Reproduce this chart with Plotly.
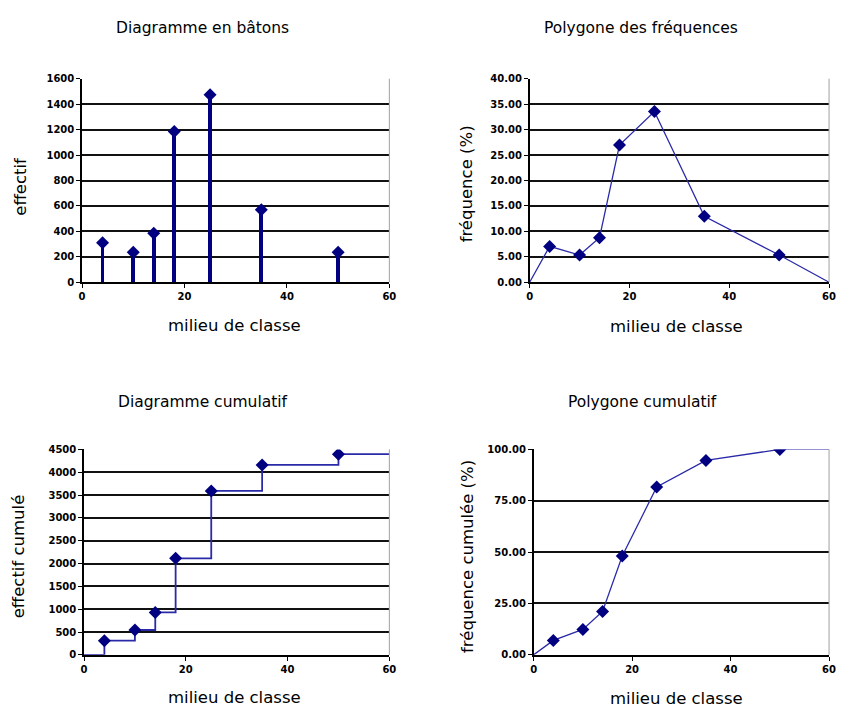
import plotly.graph_objects as go

# Class midpoints and the statistics plotted for each class
milieux = [4, 10, 14, 18, 25, 35, 50]
effectifs = [310, 235, 385, 1185, 1475, 570, 235]
frequences = [7.05, 5.35, 8.76, 26.96, 33.56, 12.97, 5.35]
effectifs_cumules = [310, 545, 930, 2115, 3590, 4160, 4395]
frequences_cumulees = [7.05, 12.40, 21.16, 48.12, 81.68, 94.65, 100.00]

# Polygon end points on the class boundaries
x_debut, x_fin = 0, 60

titres = ["Diagramme en bâtons", "Polygone des fréquences",
          "Diagramme cumulatif", "Polygone cumulatif"]
titres_y = ["effectif", "fréquence (%)", "effectif cumulé", "fréquence cumulée (%)"]
titre_x = "milieu de classe"

NAVY = "#000080"
LINE = "#2a2aa8"
W, H = 841, 711


def px(v):
    return v / W


def py(v):
    return 1 - v / H


fig = go.Figure()

# 1) stems
fig.add_trace(go.Bar(x=milieux, y=effectifs, width=0.75, marker=dict(color=NAVY, line=dict(width=0)),
                     xaxis="x", yaxis="y", hoverinfo="x+y"))
fig.add_trace(go.Scatter(x=milieux, y=effectifs, mode="markers",
                         marker=dict(symbol="diamond", size=10, color=NAVY),
                         xaxis="x", yaxis="y"))

# 2) frequency polygon
fig.add_trace(go.Scatter(x=[x_debut] + milieux + [x_fin], y=[0] + frequences + [0],
                         mode="lines", line=dict(color=LINE, width=1.3),
                         xaxis="x2", yaxis="y2"))
fig.add_trace(go.Scatter(x=milieux, y=frequences, mode="markers",
                         marker=dict(symbol="diamond", size=10, color=NAVY),
                         xaxis="x2", yaxis="y2"))

# 3) cumulative step diagram
fig.add_trace(go.Scatter(x=[x_debut] + milieux + [x_fin],
                         y=[0] + effectifs_cumules + [effectifs_cumules[-1]],
                         mode="lines", line=dict(color=LINE, width=1.8, shape="hv"),
                         xaxis="x3", yaxis="y3"))
fig.add_trace(go.Scatter(x=milieux, y=effectifs_cumules, mode="markers",
                         marker=dict(symbol="diamond", size=10, color=NAVY),
                         xaxis="x3", yaxis="y3"))

# 4) cumulative polygon
fig.add_trace(go.Scatter(x=[x_debut] + milieux + [x_fin],
                         y=[0] + frequences_cumulees + [frequences_cumulees[-1]],
                         mode="lines", line=dict(color=LINE, width=1.3),
                         xaxis="x4", yaxis="y4"))
fig.add_trace(go.Scatter(x=milieux, y=frequences_cumulees, mode="markers",
                         marker=dict(symbol="diamond", size=10, color=NAVY),
                         xaxis="x4", yaxis="y4"))

tickfont = dict(family="DejaVu Sans", size=10, color="black", weight="bold")

panels = [
    # (x px range, y px range, y range, y dtick, y format)
    ((80, 391), (74, 281), (0, 1600), 200, ""),
    ((533, 836), (74, 281), (0, 40), 5, ".2f"),
    ((82, 391), (451, 660), (0, 4500), 500, ""),
    ((537, 836), (451, 660), (0, 100), 25, ".2f"),
]

layout = dict(
    width=W, height=H, margin=dict(l=0, r=0, t=0, b=0),
    paper_bgcolor="white", plot_bgcolor="white", showlegend=False,
    font=dict(family="DejaVu Sans", color="black"),
)
shapes = []
for i, ((x0, x1), (y0, y1), yr, dt, fmt) in enumerate(panels):
    s = "" if i == 0 else str(i + 1)
    layout["xaxis" + s] = dict(
        domain=[px(x0), px(x1)], range=[0, 60], dtick=20, tick0=0,
        showgrid=False, zeroline=False, showline=True, linecolor="black", linewidth=1.5,
        ticks="outside", ticklen=4, tickcolor="black", tickfont=tickfont,
        anchor="y" + s, fixedrange=True,
    )
    layout["yaxis" + s] = dict(
        domain=[py(y1), py(y0)], range=list(yr), dtick=dt, tick0=0, tickformat=fmt,
        showgrid=True, gridcolor="#111111", gridwidth=1.6, zeroline=False,
        showline=True, linecolor="black", linewidth=1.5,
        ticks="outside", ticklen=4, tickcolor="black", tickfont=tickfont,
        anchor="x" + s, fixedrange=True,
    )
    # light frame on the right edge of each plot area
    shapes.append(dict(type="line", xref="x" + s + " domain", yref="y" + s + " domain",
                       x0=1, x1=1, y0=0, y1=1, line=dict(color="#a0a0a0", width=1)))

layout["shapes"] = shapes
layout["bargap"] = 0

annotations = []
title_pos = [(202, 22), (646, 22), (202, 403), (647, 403)]
xtitle_pos = [(234, 325), (682, 326), (234, 703), (682, 704)]
ytitle_pos = [(18, 183), (470, 181), (16, 560), (470, 560)]
for t, (x, y) in zip(titres, title_pos):
    annotations.append(dict(text=t, x=px(x), y=py(y), xref="paper", yref="paper",
                            showarrow=False, xanchor="center", yanchor="middle",
                            font=dict(family="DejaVu Sans", size=15.5, color="black")))
for (x, y) in xtitle_pos:
    annotations.append(dict(text=titre_x, x=px(x), y=py(y), xref="paper", yref="paper",
                            showarrow=False, xanchor="center", yanchor="middle",
                            font=dict(family="DejaVu Sans", size=16.5, color="black")))
for t, (x, y) in zip(titres_y, ytitle_pos):
    annotations.append(dict(text=t, x=px(x), y=py(y), xref="paper", yref="paper",
                            showarrow=False, xanchor="center", yanchor="middle", textangle=-90,
                            font=dict(family="DejaVu Sans", size=16.5, color="black")))
layout["annotations"] = annotations

fig.update_layout(**layout)
fig.write_html("out.html")
